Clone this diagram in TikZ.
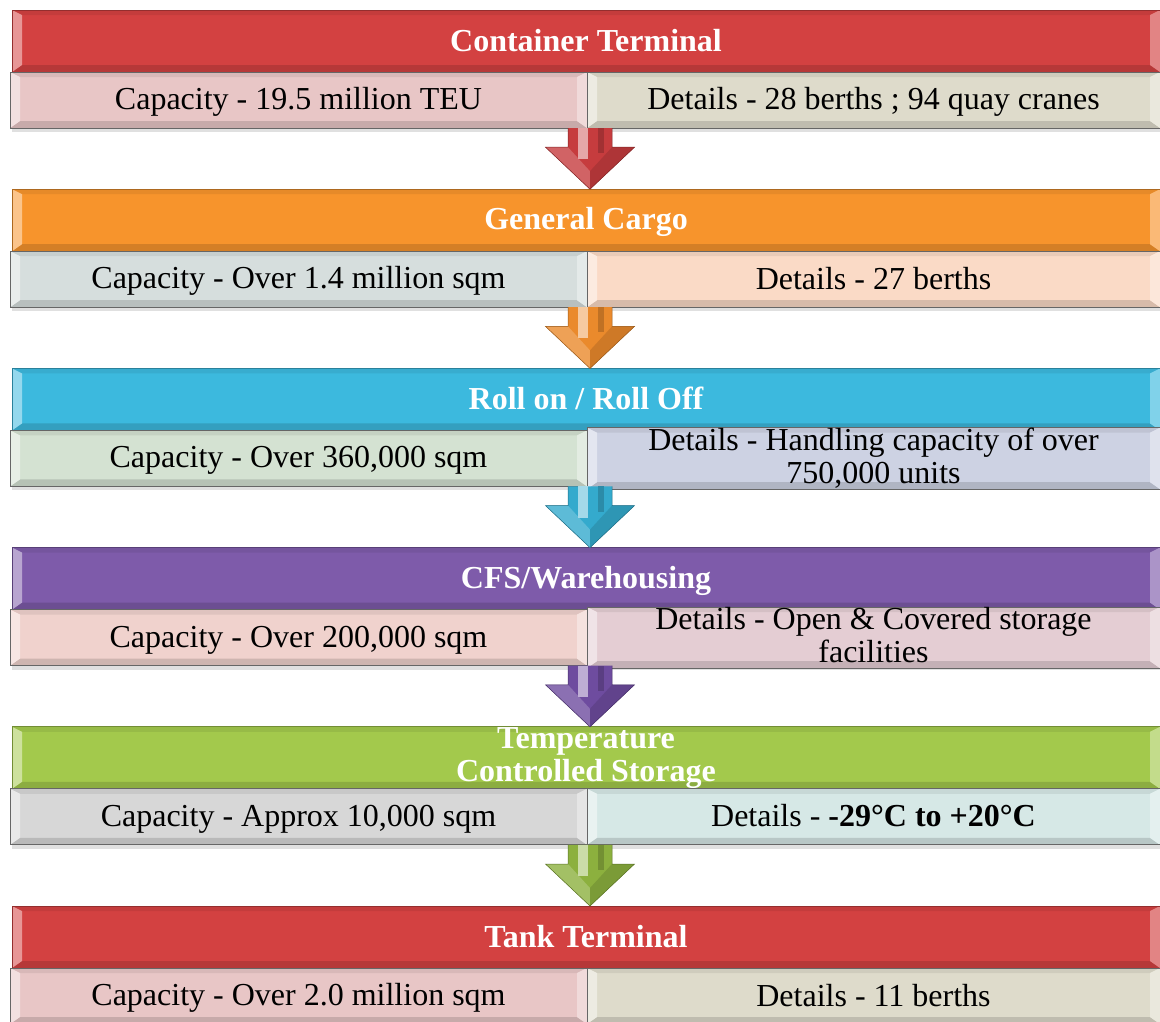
\documentclass[tikz,border=0pt]{standalone}
\usepackage{fontspec}
\setmainfont{Liberation Serif}
\usetikzlibrary{calc,backgrounds}

% header colours
\definecolor{hRed}{HTML}{D34141}
\definecolor{hOrange}{HTML}{F7942C}
\definecolor{hCyan}{HTML}{3CB9DE}
\definecolor{hPurple}{HTML}{7E5BAA}
\definecolor{hGreen}{HTML}{A3C94C}
% cell colours
\definecolor{cPink}{HTML}{E8C6C6}
\definecolor{cBeige}{HTML}{DEDBCB}
\definecolor{cSlate}{HTML}{D6DEDD}
\definecolor{cPeach}{HTML}{FADAC6}
\definecolor{cSage}{HTML}{D4E2D2}
\definecolor{cLavender}{HTML}{CDD2E3}
\definecolor{cRose}{HTML}{F0D2CD}
\definecolor{cMauve}{HTML}{E4CDD3}
\definecolor{cGrey}{HTML}{D7D7D7}
\definecolor{cMint}{HTML}{D6E8E6}
% arrow colours
\definecolor{aRed}{HTML}{C63C3E}
\definecolor{aOrange}{HTML}{EA8A2C}
\definecolor{aCyan}{HTML}{34AACD}
\definecolor{aPurple}{HTML}{6E4C9F}
\definecolor{aGreen}{HTML}{8CB03E}

\newcommand\hdrfont{\fontsize{32}{33}\selectfont\bfseries}
\newcommand\cellfont{\fontsize{32}{33}\selectfont}
% fixed line strut so every label sits at the same height
\newcommand\linestrut{\rule[-6pt]{0pt}{32pt}}

\tikzset{
  bevel/.style={path picture={
    \coordinate (bvA) at (path picture bounding box.north west);
    \coordinate (bvB) at (path picture bounding box.north east);
    \coordinate (bvC) at (path picture bounding box.south east);
    \coordinate (bvD) at (path picture bounding box.south west);
    \fill[#1!93!black] (bvA) -- (bvB) -- ([shift={(-10pt,-5pt)}]bvB) -- ([shift={(10pt,-5pt)}]bvA) -- cycle;
    \fill[#1!86!black] (bvD) -- (bvC) -- ([shift={(-10pt,7pt)}]bvC) -- ([shift={(10pt,7pt)}]bvD) -- cycle;
    \fill[#1!55!white] (bvA) -- ([shift={(10pt,-5pt)}]bvA) -- ([shift={(10pt,7pt)}]bvD) -- (bvD) -- cycle;
    \fill[#1!65!white] (bvB) -- ([shift={(-10pt,-5pt)}]bvB) -- ([shift={(-10pt,7pt)}]bvC) -- (bvC) -- cycle;
  }},
  header/.style={rectangle, inner sep=0pt, outer sep=0pt,
    minimum width=1148pt, minimum height=62pt,
    fill=#1, draw=#1!70!black, line width=0.8pt, bevel=#1,
    text=white, font=\hdrfont, align=center,
    execute at begin node=\linestrut, execute at end node=\linestrut},
  cell/.style={rectangle, inner sep=0pt, outer sep=0pt,
    minimum height=56pt, fill=#1, draw=black!60, line width=0.8pt,
    bevel=#1, text=black, font=\cellfont, align=center,
    execute at begin node=\linestrut, execute at end node=\linestrut},
  leftcell/.style={cell=#1, minimum width=577pt},
  rightcell/.style={cell=#1, minimum width=573pt},
  shadowband/.style={fill=black, opacity=0.12},
}

% block arrow from the junction of a cell row down to the next header
\newcommand\flowarrow[3]{%
  \coordinate (fa-s) at ($(#1.south east)+(3pt,0)$);
  \coordinate (fa-t) at (fa-s |- #2.north);
  \fill[#3] (fa-t) -- ($(fa-t)+(-44.5pt,42pt)$) -- ($(fa-t)+(-22pt,42pt)$)
    -- ($(fa-s)+(-22pt,0)$) -- ($(fa-s)+(22pt,0)$) -- ($(fa-t)+(22pt,42pt)$)
    -- ($(fa-t)+(44.5pt,42pt)$) -- cycle;
  \fill[#3!80!white] (fa-t) -- ($(fa-t)+(-44.5pt,42pt)$) -- ($(fa-t)+(-22pt,42pt)$)
    -- ($(fa-t)+(0pt,18pt)$) -- cycle;
  \fill[#3!88!black] (fa-t) -- ($(fa-t)+(44.5pt,42pt)$) -- ($(fa-t)+(22pt,42pt)$)
    -- ($(fa-t)+(0pt,18pt)$) -- cycle;
  \fill[#3!45!white] ($(fa-s)+(-12pt,0)$) rectangle ($(fa-t)+(-2pt,30pt)$);
  \fill[#3!82!black] ($(fa-s)+(8pt,0)$) rectangle ($(fa-t)+(14pt,36pt)$);
  \draw[#3!65!black, line width=0.5pt] ($(fa-s)+(-22pt,0)$) -- ($(fa-t)+(-22pt,42pt)$)
    -- ($(fa-t)+(-44.5pt,42pt)$) -- (fa-t) -- ($(fa-t)+(44.5pt,42pt)$)
    -- ($(fa-t)+(22pt,42pt)$) -- ($(fa-s)+(22pt,0)$);
}

\begin{document}
\begin{tikzpicture}[x=1pt,y=1pt]
\useasboundingbox (0,0) rectangle (1160,-1021);

% ---- Container Terminal
\node[header=hRed] (h1) at (586,-41) {Container Terminal};
\node[leftcell=cPink] (l1) at (298.5,-100) {Capacity - 19.5 million TEU};
\node[rightcell=cBeige] (r1) at (873.5,-100) {Details - 28 berths ; 94 quay cranes};

% ---- General Cargo
\node[header=hOrange] (h2) at (586,-220.2) {General Cargo};
\node[leftcell=cSlate] (l2) at (298.5,-279.2) {Capacity - Over 1.4 million sqm};
\node[rightcell=cPeach] (r2) at (873.5,-279.2) {Details - 27 berths};

% ---- Roll on / Roll Off
\node[header=hCyan] (h3) at (586,-399.4) {Roll on / Roll Off};
\node[leftcell=cSage] (l3) at (298.5,-458.4) {Capacity - Over 360,000 sqm};
\node[rightcell=cLavender] (r3) at (873.5,-458.4) {Details - Handling capacity of over\\750,000 units};

% ---- CFS/Warehousing
\node[header=hPurple] (h4) at (586,-578.6) {CFS/Warehousing};
\node[leftcell=cRose] (l4) at (298.5,-637.6) {Capacity - Over 200,000 sqm};
\node[rightcell=cMauve] (r4) at (873.5,-637.6) {Details - Open \& Covered storage\\facilities};

% ---- Temperature Controlled Storage
\node[header=hGreen] (h5) at (586,-757.8) {Temperature\\Controlled Storage};
\node[leftcell=cGrey] (l5) at (298.5,-816.8) {Capacity - Approx 10,000 sqm};
\node[rightcell=cMint] (r5) at (873.5,-816.8) {Details - \textbf{-29°C to +20°C}};

% ---- Tank Terminal
\node[header=hRed] (h6) at (586,-937) {Tank Terminal};
\node[leftcell=cPink] (l6) at (298.5,-996) {Capacity - Over 2.0 million sqm};
\node[rightcell=cBeige] (r6) at (873.5,-996) {Details - 11 berths};

% soft shadows below each cell row
\begin{scope}[on background layer]
  \foreach \c in {1,...,6}{
    \fill[shadowband] ($(l\c.south west)+(2pt,-4pt)$) rectangle ($(r\c.north east)+(0,-4pt)$);
  }
\end{scope}

% connecting block arrows
\flowarrow{l1}{h2}{aRed}
\flowarrow{l2}{h3}{aOrange}
\flowarrow{l3}{h4}{aCyan}
\flowarrow{l4}{h5}{aPurple}
\flowarrow{l5}{h6}{aGreen}
\end{tikzpicture}
\end{document}
